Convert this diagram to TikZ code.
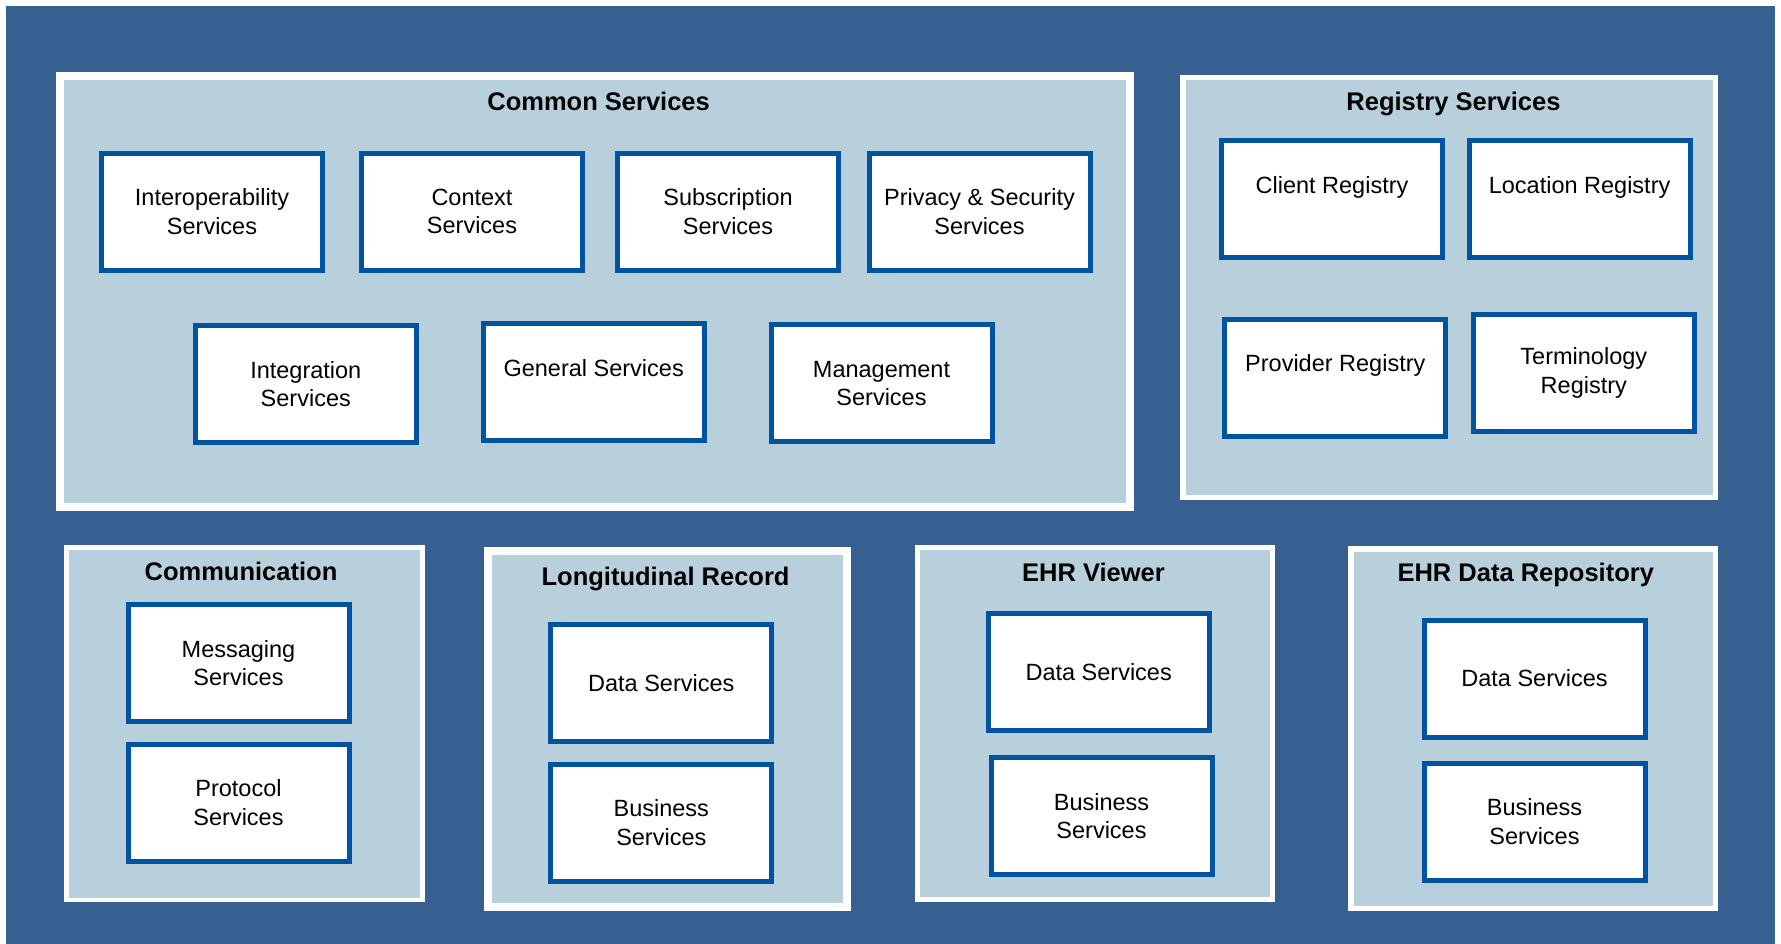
\documentclass[tikz,border=0pt]{standalone}
\usepackage{fontspec}
\setmainfont{Liberation Sans}
\definecolor{bgblue}{RGB}{53,96,143}
\definecolor{paleblue}{RGB}{184,208,220}
\definecolor{boxblue}{RGB}{0,83,159}
\begin{document}
\begin{tikzpicture}[x=1pt,y=-1pt,
	svc/.style={draw=boxblue,line width=5pt,fill=white,rectangle,minimum width=221pt,minimum height=117pt,inner sep=0pt,align=center,font=\fontsize{23.5}{28.4}\selectfont},
	group/.style={draw=white,fill=paleblue,rectangle,inner sep=0pt},
	title/.style={anchor=base,font=\fontsize{25.5}{30}\selectfont\bfseries}]
	\useasboundingbox[fill=white] (0,0) rectangle (1781,944) ;
	\fill[bgblue] (6,6) rectangle (1775,944) ;
	% groups
	\node[group,line width=8pt,minimum width=1070.5pt,minimum height=431pt] (Common) at (594.8,291.5) {} ;
	\node[group,line width=5.5pt,minimum width=532.5pt,minimum height=419.5pt] (Registry) at (1449,287.5) {} ;
	\node[group,line width=4.5pt,minimum width=356pt,minimum height=352.5pt] (Comm) at (244.7,723.5) {} ;
	\node[group,line width=8pt,minimum width=359pt,minimum height=356pt] (LongRec) at (667.5,729) {} ;
	\node[group,line width=5pt,minimum width=355pt,minimum height=352pt] (Viewer) at (1095,723.5) {} ;
	\node[group,line width=5.5pt,minimum width=364.5pt,minimum height=359.5pt] (Repo) at (1533,728.5) {} ;
	\node[title] (CommonT) at (598.6,111) {Common Services} ;
	\node[title] (RegistryT) at (1453.5,111) {Registry Services} ;
	\node[title] (CommT) at (241,580) {Communication} ;
	\node[title] (LongRecT) at (665.6,585.7) {Longitudinal Record} ;
	\node[title] (ViewerT) at (1093.5,581) {EHR Viewer} ;
	\node[title] (RepoT) at (1525.8,581.7) {EHR Data Repository} ;
	% common services
	\node[svc] (Interop) at (212,211.7) {Interoperability\\Services} ;
	\node[svc] (Context) at (472,211.7) {Context\\Services} ;
	\node[svc] (Subscr) at (728,211.7) {Subscription\\Services} ;
	\node[svc] (Privacy) at (979.5,211.7) {Privacy \& Security\\Services} ;
	\node[svc] (Integr) at (305.8,383.9) {Integration\\Services} ;
	\node[svc] (General) at (593.7,381.7) {General Services\\\mbox{}} ;
	\node[svc] (Mgmt) at (881.5,383.3) {Management\\Services} ;
	% registry services
	\node[svc] (Client) at (1332,199.5) {Client Registry\\\mbox{}} ;
	\node[svc] (Location) at (1579.6,199.2) {Location Registry\\\mbox{}} ;
	\node[svc] (Provider) at (1335.3,377.5) {Provider Registry\\\mbox{}} ;
	\node[svc] (Termin) at (1583.8,372.9) {Terminology\\Registry} ;
	% bottom row
	\node[svc] (Msg) at (238.5,663) {Messaging\\Services} ;
	\node[svc] (Proto) at (238.5,802.5) {Protocol\\Services} ;
	\node[svc] (LongData) at (661.3,683) {Data Services} ;
	\node[svc] (LongBus) at (661.3,822.7) {Business\\Services} ;
	\node[svc] (ViewData) at (1098.7,672.3) {Data Services} ;
	\node[svc] (ViewBus) at (1101.5,816) {Business\\Services} ;
	\node[svc] (RepoData) at (1534.5,678.5) {Data Services} ;
	\node[svc] (RepoBus) at (1534.5,821.7) {Business\\Services} ;
\end{tikzpicture}
\end{document}
